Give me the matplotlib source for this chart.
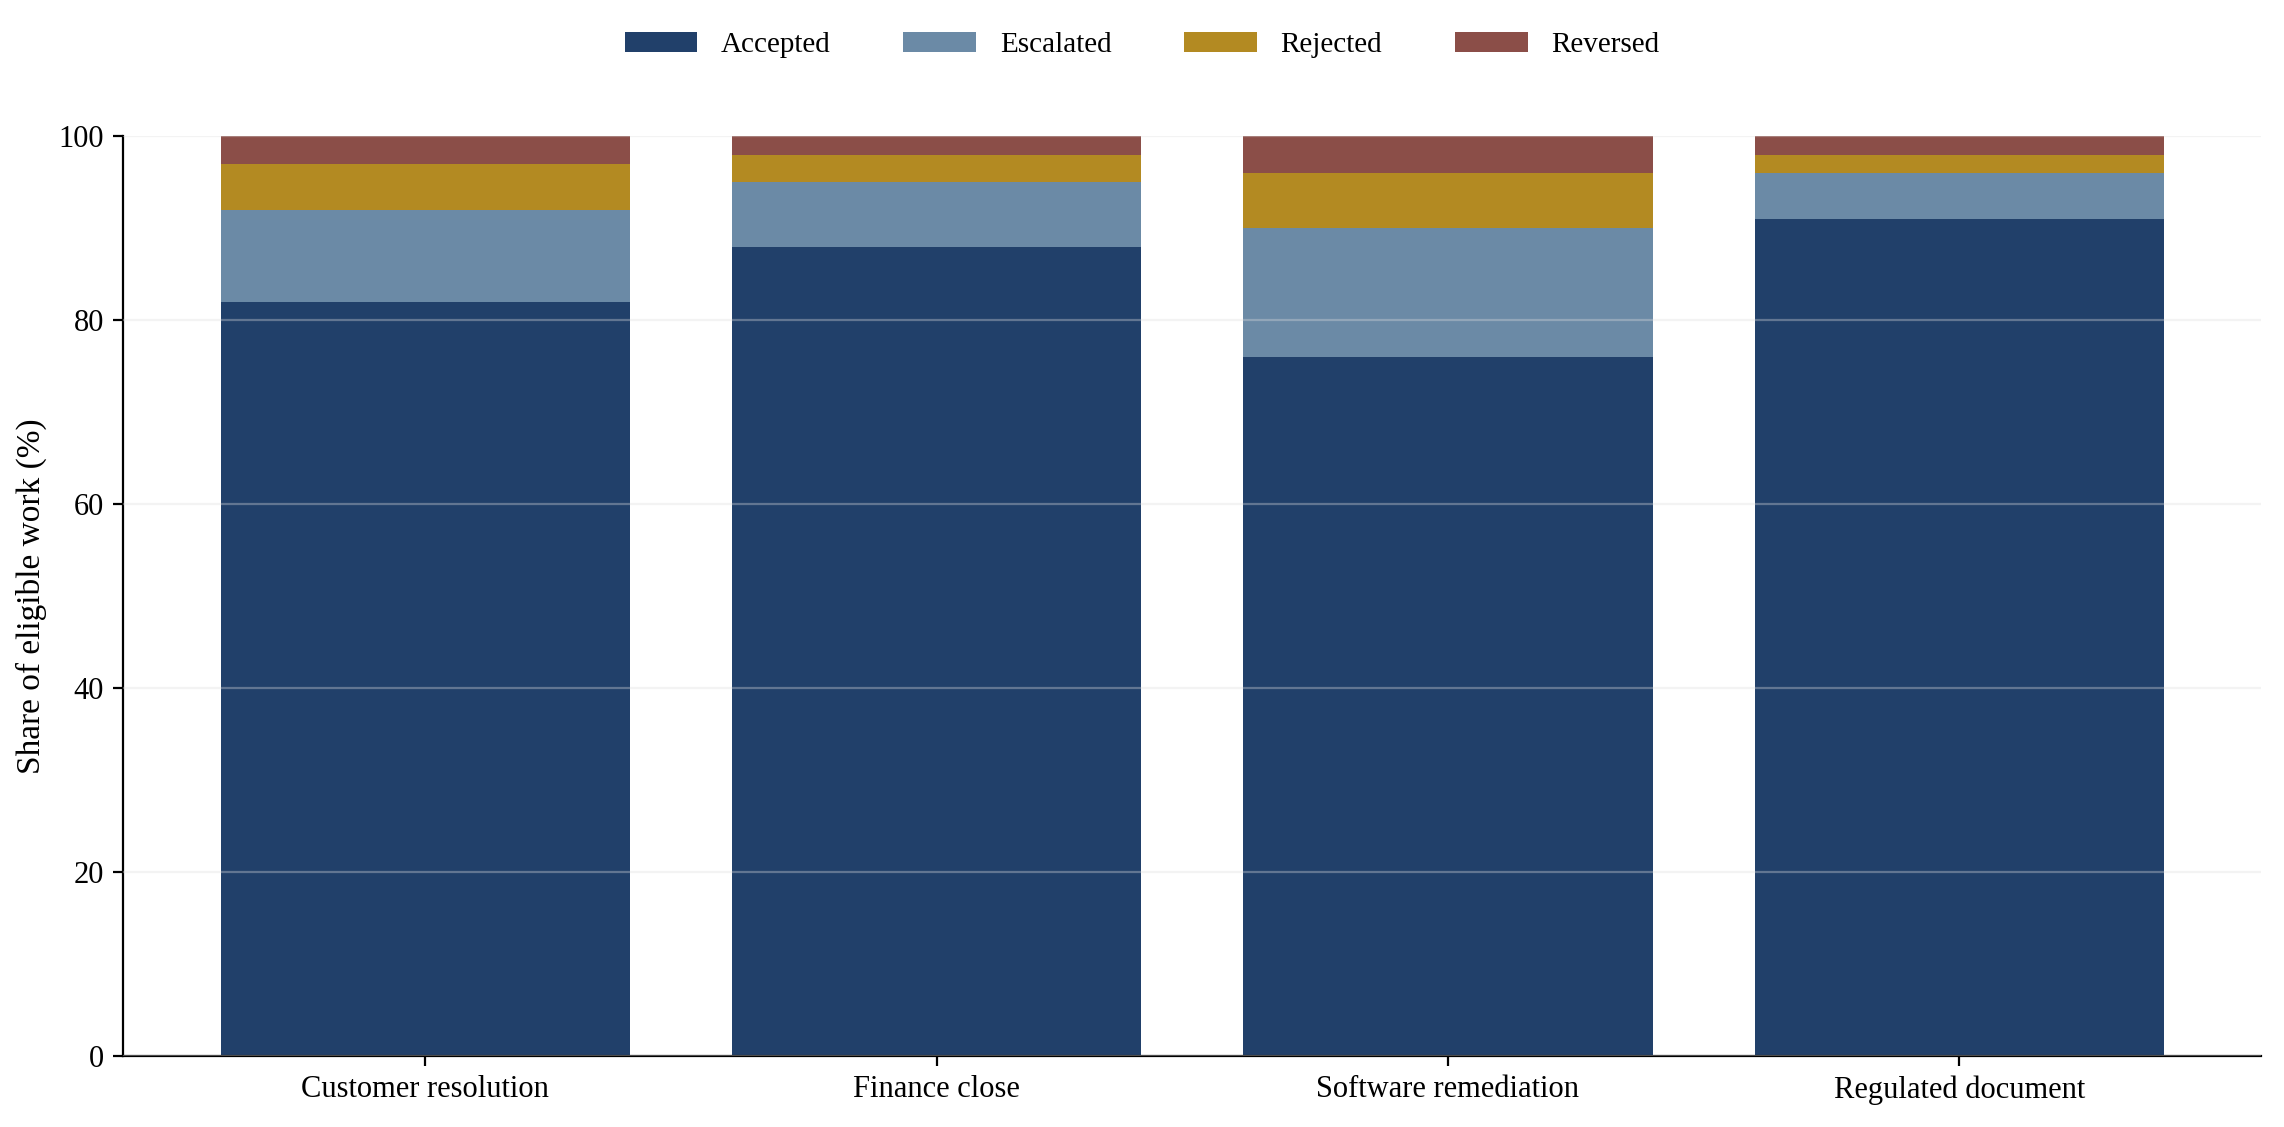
import matplotlib.pyplot as plt
import numpy as np

plt.rcParams['font.family'] = ['Liberation Serif', 'DejaVu Serif']

categories = ["Customer resolution", "Finance close", "Software remediation", "Regulated document"]
accepted = [82, 88, 76, 91]
escalated = [10, 7, 14, 5]
rejected = [5, 3, 6, 2]
reversed_ = [3, 2, 4, 2]

series = [
    ("Accepted", accepted, "#21406a"),
    ("Escalated", escalated, "#6b8aa6"),
    ("Rejected", rejected, "#b38a22"),
    ("Reversed", reversed_, "#8b4e48"),
]

fig = plt.figure(figsize=(11.42, 5.635), dpi=200)
ax = fig.add_axes([0.054, 0.063, 0.936, 0.816])

x = np.arange(len(categories))
bottom = np.zeros(len(categories))
for name, vals, color in series:
    ax.bar(x, vals, 0.8, bottom=bottom, color=color, label=name, zorder=2)
    bottom += np.array(vals)

ax.set_xlim(-0.59, 3.59)
ax.set_ylim(0, 100)
ax.set_xticks(x)
ax.set_xticklabels(categories, fontsize=11)
ax.set_yticks([0, 20, 40, 60, 80, 100])
ax.tick_params(labelsize=11)
ax.set_ylabel("Share of eligible work (%)", fontsize=12)
ax.grid(axis='y', color='#dddddd', alpha=0.35, linewidth=0.8, zorder=3)
ax.set_axisbelow(False)
for s in ("top", "right"):
    ax.spines[s].set_visible(False)

fig.legend(loc='upper center', bbox_to_anchor=(0.5, 0.995), ncol=4, frameon=False,
           fontsize=10.5, handlelength=2.5, columnspacing=2.5)

fig.savefig("out.png", dpi=200)
